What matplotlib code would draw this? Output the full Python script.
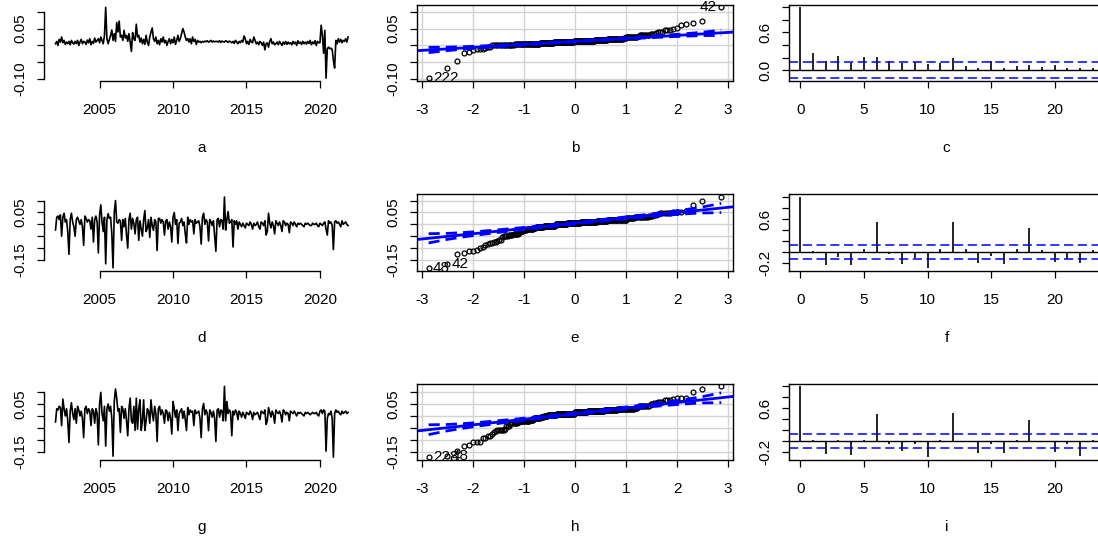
import numpy as np
import matplotlib.pyplot as plt
from statistics import NormalDist

plt.rcParams['font.family'] = ['Liberation Sans', 'DejaVu Sans']
plt.rcParams['font.size'] = 11

# monthly values, Jan 2002 .. Dec 2021 (one row per year)
series_a = [
    0.005, 0.012, 0.000, 0.018, 0.010, 0.025, 0.008, 0.015, 0.003, 0.010, 0.005, 0.012,
    0.002, 0.015, 0.008, 0.004, 0.012, 0.006, 0.015, 0.000, 0.010, 0.018, 0.005, 0.012,
    0.010, 0.003, 0.016, 0.008, 0.020, 0.002, 0.012, 0.006, 0.022, 0.010, 0.015, 0.020,
    0.008, 0.025, 0.015, 0.005, 0.030, 0.113, 0.020, 0.005, 0.018, 0.030, 0.046, 0.015,
    0.035, 0.012, 0.068, 0.040, 0.072, 0.025, 0.030, 0.015, 0.045, 0.022, 0.030, 0.012,
    0.035, 0.010, -0.018, 0.038, 0.020, 0.015, 0.063, 0.025, 0.030, 0.010, 0.022, 0.005,
    0.018, 0.003, 0.030, 0.010, 0.000, 0.025, 0.040, 0.052, 0.020, 0.012, 0.025, 0.005,
    0.015, 0.002, 0.020, 0.010, 0.025, 0.008, 0.015, 0.000, 0.012, 0.020, 0.005, 0.018,
    0.008, 0.025, 0.003, 0.015, 0.030, 0.012, 0.020, 0.035, 0.050, 0.040, 0.025, 0.015,
    0.020, 0.010, 0.020, 0.005, 0.025, 0.012, 0.018, 0.003, 0.015, 0.010, 0.012, 0.008,
    0.012, 0.010, 0.013, 0.011, 0.014, 0.010, 0.012, 0.015, 0.010, 0.013, 0.011, 0.012,
    0.012, 0.010, 0.014, 0.009, 0.013, 0.011, 0.010, 0.014, 0.012, 0.009, 0.013, 0.011,
    0.008, 0.012, 0.006, 0.015, 0.010, 0.005, 0.012, 0.008, 0.015, 0.010, 0.028, 0.020,
    0.005, 0.012, 0.003, 0.018, 0.010, 0.008, 0.025, 0.015, 0.005, 0.010, 0.002, 0.012,
    0.008, 0.000, 0.010, -0.013, 0.005, 0.008, -0.005, 0.012, 0.020, 0.005, 0.010, 0.002,
    0.005, 0.010, 0.002, 0.012, 0.006, 0.000, 0.010, 0.004, 0.012, 0.003, 0.010, 0.005,
    0.008, 0.002, 0.012, 0.005, 0.010, 0.000, 0.014, 0.006, 0.010, 0.003, 0.012, 0.005,
    0.010, 0.004, 0.012, 0.006, 0.015, 0.002, 0.010, 0.005, 0.014, 0.000, 0.012, 0.008,
    0.008, 0.060, 0.030, -0.023, 0.045, -0.097, -0.010, -0.005, -0.010, -0.008, -0.012, -0.045,
    -0.067, 0.015, 0.005, 0.020, 0.010, 0.018, 0.008, 0.015, 0.012, 0.020, 0.010, 0.025,
]

series_d = [
    -0.024, 0.030, 0.035, 0.020, 0.040, -0.050, 0.030, 0.047, 0.010, 0.020, -0.030, -0.126,
    0.020, 0.047, 0.010, -0.010, -0.050, 0.020, 0.030, 0.015, 0.000, 0.020, -0.010, -0.088,
    0.035, 0.025, 0.010, 0.020, 0.015, -0.020, 0.030, -0.074, 0.020, 0.035, 0.010, -0.120,
    0.040, 0.082, 0.010, -0.030, 0.030, -0.166, 0.020, 0.045, 0.025, 0.030, -0.040, -0.183,
    0.050, 0.100, 0.010, 0.005, 0.020, 0.015, -0.067, 0.020, -0.010, 0.025, -0.045, -0.100,
    0.020, 0.047, -0.020, 0.025, 0.005, -0.040, 0.020, 0.030, -0.067, 0.015, -0.020, -0.050,
    0.020, 0.058, -0.030, -0.015, 0.020, -0.055, 0.030, -0.005, -0.025, 0.020, 0.010, -0.110,
    0.025, 0.025, 0.005, 0.020, 0.010, -0.045, 0.015, 0.020, -0.020, 0.010, -0.010, -0.074,
    0.030, 0.050, 0.000, 0.020, -0.080, 0.005, 0.010, 0.025, -0.005, 0.010, -0.040, -0.078,
    0.030, 0.000, 0.020, 0.010, 0.015, -0.040, 0.020, 0.005, 0.010, 0.015, -0.010, -0.083,
    0.030, 0.047, 0.000, 0.020, 0.010, -0.070, 0.020, 0.010, -0.005, 0.015, -0.050, -0.113,
    0.020, 0.025, -0.010, 0.020, 0.015, -0.020, 0.115, -0.024, 0.020, 0.054, 0.005, 0.010,
    0.020, -0.095, 0.015, 0.000, 0.015, -0.020, 0.010, 0.000, -0.010, 0.005, -0.005, -0.015,
    0.005, 0.000, -0.005, 0.010, 0.000, -0.020, 0.005, -0.005, 0.000, 0.010, -0.010, -0.020,
    0.010, 0.005, -0.005, 0.015, -0.045, -0.030, 0.047, 0.005, -0.015, 0.010, -0.005, -0.040,
    0.015, 0.005, -0.005, 0.010, -0.005, -0.030, 0.015, 0.010, -0.005, 0.005, 0.000, -0.035,
    0.010, 0.005, -0.005, 0.010, 0.000, -0.010, 0.005, 0.000, 0.005, 0.000, -0.005, -0.010,
    0.005, 0.000, 0.005, 0.000, -0.005, -0.005, 0.005, 0.000, 0.000, 0.005, -0.005, -0.010,
    0.005, 0.000, -0.005, 0.005, 0.010, -0.020, -0.045, 0.015, 0.005, 0.010, -0.005, -0.106,
    0.010, 0.015, 0.005, 0.010, 0.000, -0.010, 0.015, 0.000, 0.005, 0.010, 0.000, -0.005,
]

series_g = [
    -0.025, 0.030, 0.025, 0.040, 0.035, -0.040, 0.070, 0.030, 0.000, 0.030, -0.020, -0.110,
    0.020, 0.055, 0.010, -0.015, 0.030, -0.030, 0.040, 0.025, 0.000, 0.020, -0.010, -0.090,
    0.030, 0.040, 0.010, 0.030, 0.020, -0.040, 0.030, 0.020, -0.030, 0.030, 0.010, -0.120,
    0.050, 0.098, 0.010, -0.020, 0.040, -0.125, 0.030, 0.050, 0.020, 0.040, -0.010, -0.167,
    0.060, 0.112, 0.074, 0.020, 0.030, -0.068, 0.040, 0.030, -0.010, 0.030, -0.020, -0.082,
    0.030, 0.074, -0.020, -0.030, 0.040, -0.060, 0.074, -0.055, 0.030, 0.067, -0.060, -0.020,
    0.067, -0.060, -0.020, 0.030, 0.020, -0.030, 0.067, 0.010, -0.020, 0.040, 0.010, -0.106,
    0.030, 0.040, 0.005, 0.025, 0.010, -0.030, 0.025, 0.020, -0.020, 0.015, -0.010, -0.075,
    0.060, 0.030, -0.005, 0.025, -0.060, 0.010, 0.020, 0.030, -0.010, 0.020, -0.015, -0.060,
    0.035, 0.005, 0.025, 0.015, 0.020, -0.040, 0.025, 0.010, 0.015, 0.020, -0.010, -0.090,
    0.030, 0.052, 0.005, 0.025, 0.010, -0.061, 0.025, 0.015, -0.005, 0.020, -0.010, -0.106,
    0.025, 0.030, -0.005, 0.025, 0.020, -0.020, 0.123, -0.020, 0.060, 0.010, 0.025, 0.015,
    -0.082, 0.020, 0.005, 0.025, 0.015, -0.015, 0.020, 0.010, -0.005, 0.015, 0.005, -0.010,
    0.015, 0.010, 0.005, 0.020, 0.010, -0.015, 0.015, 0.005, 0.010, 0.015, 0.000, -0.015,
    0.020, 0.015, 0.010, 0.025, -0.035, -0.020, 0.035, 0.015, -0.005, 0.020, 0.005, -0.030,
    0.025, 0.015, 0.010, 0.020, 0.005, -0.025, 0.025, 0.020, 0.005, 0.015, 0.010, -0.020,
    0.020, 0.015, 0.010, 0.020, 0.010, 0.000, 0.015, 0.010, 0.015, 0.010, 0.005, 0.000,
    0.015, 0.010, 0.015, 0.010, 0.005, 0.010, 0.015, 0.010, 0.010, 0.015, 0.005, 0.000,
    0.020, 0.025, 0.010, 0.025, 0.020, -0.146, -0.010, 0.010, 0.005, 0.020, -0.010, -0.171,
    0.010, 0.025, 0.015, 0.020, 0.010, 0.005, 0.020, 0.010, 0.015, 0.020, 0.010, 0.015,
]

# autocorrelations, lags 0..23
acf_c = [1.0, 0.27, 0.15, 0.23, 0.11, 0.21, 0.21, 0.14, 0.12, 0.13, 0.10, 0.12,
         0.19, 0.07, 0.03, 0.14, 0.04, 0.07, 0.08, 0.05, 0.085, 0.04, 0.03, 0.04]
acf_f = [1.0, 0.02, -0.245, -0.10, -0.245, 0.06, 0.55, -0.03, -0.22, -0.11, -0.29, 0.06,
         0.55, 0.06, -0.21, -0.08, -0.22, 0.06, 0.43, 0.03, -0.18, -0.125, -0.20, 0.04]
acf_i = [1.0, 0.01, -0.24, 0.02, -0.26, 0.02, 0.49, -0.06, -0.19, -0.06, -0.30, 0.01,
         0.51, 0.0, -0.22, -0.06, -0.23, 0.02, 0.38, -0.02, -0.20, -0.05, -0.28, 0.02]

ts_xticks = [2005, 2010, 2015, 2020]
qq_xticks = [-3, -2, -1, 0, 1, 2, 3]
acf_xticks = [0, 5, 10, 15, 20]

yticks_row1 = [-0.10, -0.05, 0.0, 0.05, 0.10]
ylabels_row1 = ['-0.10', '', '', '0.05', '']
yticks_row23 = [-0.15, -0.10, -0.05, 0.0, 0.05, 0.10]
ylabels_row23 = ['-0.15', '', '', '', '0.05', '']
acf_yticks_row1 = [0.0, 0.2, 0.4, 0.6, 0.8, 1.0]
acf_ylabels_row1 = ['0.0', '', '', '0.6', '', '']
acf_yticks_row23 = [-0.2, 0.0, 0.2, 0.4, 0.6, 0.8, 1.0]
acf_ylabels_row23 = ['-0.2', '', '', '', '0.6', '', '']

letters = [['a', 'b', 'c'], ['d', 'e', 'f'], ['g', 'h', 'i']]

n_obs = len(series_a)
years = 2002 + np.arange(n_obs) / 12
lags = np.arange(len(acf_c))
nd = NormalDist()


def r_lim(lo, hi):
    # R style 4% axis extension
    d = (hi - lo) * 0.04
    return lo - d, hi + d


W, H = 1098, 537
fig = plt.figure(figsize=(W / 100, H / 100), dpi=100)
lefts = [43.8, 416.9, 788.6]
tops = [4.5, 194.2, 383.5]
pw, ph = 316, 76.5


def panel(row, col):
    ax = fig.add_axes([lefts[col] / W, 1 - (tops[row] + ph) / H, pw / W, ph / H])
    ax.tick_params(direction='out', length=5, width=0.9, labelsize=11)
    ax.tick_params(axis='x', pad=11)
    ax.tick_params(axis='y', pad=7)
    for s in ax.spines.values():
        s.set_linewidth(1.0)
    return ax


def draw_ts(ax, y, yticks, ylabels, letter):
    y = np.asarray(y)
    ax.plot(years, y, color='black', lw=1.2)
    ax.set_xlim(*r_lim(years[0], years[-1]))
    ax.set_ylim(*r_lim(y.min(), y.max()))
    ax.set_xticks(ts_xticks, [str(v) for v in ts_xticks])
    ax.set_yticks(yticks, ylabels, rotation=90, va='center')
    ax.spines[['top', 'right']].set_visible(False)
    ax.spines['bottom'].set_bounds(ts_xticks[0], ts_xticks[-1])
    ax.spines['left'].set_bounds(yticks[0], yticks[-1])
    ax.set_xlabel(letter, labelpad=17)


def draw_qq(ax, y, yticks, ylabels, letter):
    y = np.asarray(y)
    n = len(y)
    order = np.argsort(y)
    ys = y[order]
    P = (np.arange(1, n + 1) - 0.5) / n
    z = np.array([nd.inv_cdf(p) for p in P])
    q1, q3 = np.quantile(ys, [0.25, 0.75])
    z1, z3 = nd.inv_cdf(0.25), nd.inv_cdf(0.75)
    b = (q3 - q1) / (z3 - z1)
    a = q1 - b * z1
    se = b / np.array([nd.pdf(v) for v in z]) * np.sqrt(P * (1 - P) / n)
    fit = a + b * z
    zz = nd.inv_cdf(0.975)

    ax.set_xlim(*r_lim(z[0], z[-1]))
    ax.set_ylim(*r_lim(ys[0], ys[-1]))
    for v in qq_xticks:
        ax.axvline(v, color='lightgray', lw=1, zorder=0)
    for v in yticks:
        ax.axhline(v, color='lightgray', lw=1, zorder=0)
    ax.plot(z, ys, 'o', mfc='none', mec='black', ms=3.5, mew=0.9)
    ax.axline((0, a), slope=b, color='blue', lw=2)
    ax.plot(z, fit + zz * se, color='blue', lw=2, ls=(0, (4, 2.2)))
    ax.plot(z, fit - zz * se, color='blue', lw=2, ls=(0, (4, 2.2)))

    dev = np.abs(ys - y.mean())
    mid = (z[0] + z[-1]) / 2
    for k in np.argsort(dev)[::-1][:2]:
        right = z[k] < mid
        ax.annotate(str(order[k] + 1), (z[k], ys[k]), xytext=(3 if right else -3, 0),
                    textcoords='offset points', ha='left' if right else 'right',
                    va='center', fontsize=11)

    ax.set_xticks(qq_xticks, [str(v) for v in qq_xticks])
    ax.set_yticks(yticks, ylabels, rotation=90, va='center')
    ax.set_xlabel(letter, labelpad=17)


def draw_acf(ax, r, yticks, ylabels, letter):
    r = np.asarray(r)
    clim = 1.96 / np.sqrt(n_obs)
    ax.vlines(lags, 0, r, color='black', lw=1.2)
    ax.axhline(0, color='black', lw=1)
    ax.axhline(clim, color='blue', lw=1.1, ls=(0, (6, 3)))
    ax.axhline(-clim, color='blue', lw=1.1, ls=(0, (6, 3)))
    ax.set_xlim(*r_lim(0, lags[-1]))
    ax.set_ylim(*r_lim(min(r.min(), -clim), max(r.max(), clim)))
    ax.set_xticks(acf_xticks, [str(v) for v in acf_xticks])
    ax.set_yticks(yticks, ylabels, rotation=90, va='center')
    ax.set_xlabel(letter, labelpad=17)


rows = [
    (series_a, acf_c, yticks_row1, ylabels_row1, acf_yticks_row1, acf_ylabels_row1),
    (series_d, acf_f, yticks_row23, ylabels_row23, acf_yticks_row23, acf_ylabels_row23),
    (series_g, acf_i, yticks_row23, ylabels_row23, acf_yticks_row23, acf_ylabels_row23),
]

for i, (ser, acf, yt, yl, ayt, ayl) in enumerate(rows):
    draw_ts(panel(i, 0), ser, yt, yl, letters[i][0])
    draw_qq(panel(i, 1), ser, yt, yl, letters[i][1])
    draw_acf(panel(i, 2), acf, ayt, ayl, letters[i][2])

fig.savefig('out.png', dpi=100)
